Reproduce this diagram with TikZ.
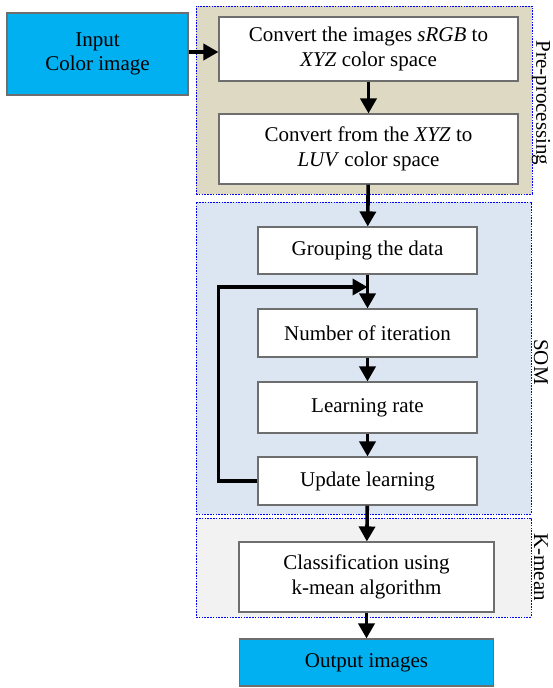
\documentclass[tikz,border=0pt]{standalone}
\usepackage{fontspec}
\setmainfont{Liberation Serif}
\usetikzlibrary{arrows.meta}

\definecolor{ioblue}{HTML}{00B0F0}
\definecolor{pretan}{HTML}{DDD9C3}
\definecolor{somblue}{HTML}{DCE6F2}
\definecolor{kgrey}{HTML}{F2F2F2}
\definecolor{edgegrey}{HTML}{6E6E6E}

\begin{document}
\begin{tikzpicture}[x=1pt, y=-1pt,
    font=\fontsize{21}{24.5}\selectfont,
    region/.style={draw=blue, line width=0.8pt, dash pattern=on 1.6pt off 1.2pt, inner sep=0pt},
    stepbox/.style={draw=edgegrey, line width=1.1pt, fill=white, align=center, inner sep=0pt},
    iobox/.style={stepbox, fill=ioblue},
    flow/.style={line width=3.6pt, -{Triangle[width=16pt,length=15pt]}},
    tag/.style={rotate=-90, inner sep=0pt}]

    \useasboundingbox (0,0) rectangle (553,688);

    % Regions
    \node[region, fill=pretan,  minimum width=336pt, minimum height=188pt] at (364, 100)   (pre)    {};
    \node[region, fill=somblue, minimum width=335pt, minimum height=312pt] at (363.5, 358) (som)    {};
    \node[region, fill=kgrey,   minimum width=335pt, minimum height=99pt]  at (363.5, 567.5) (kmean) {};

    \node[tag] at (541, 103) (prelabel)   {Pre-processing};
    \node[tag] at (541, 362) (somlabel)   {SOM};
    \node[tag] at (541, 567) (kmeanlabel) {K-mean};

    % Nodes
    \node[iobox,   minimum width=181pt, minimum height=82pt] at (97.5, 54)    (input)    {Input\\Color image};
    \node[stepbox, minimum width=299pt, minimum height=64pt] at (368.5, 49)   (srgb)     {Convert the images \textit{sRGB} to\\\textit{XYZ} color space};
    \node[stepbox, minimum width=299pt, minimum height=70pt] at (368.5, 149)  (luv)      {Convert from the \textit{XYZ} to\\\textit{LUV} color space};
    \node[stepbox, minimum width=219pt, minimum height=47pt] at (367.5, 250.5) (group)   {Grouping the data};
    \node[stepbox, minimum width=219pt, minimum height=48pt] at (367.5, 333)   (iter)    {Number of iteration};
    \node[stepbox, minimum width=219pt, minimum height=51pt] at (367.5, 407.5) (rate)    {Learning rate};
    \node[stepbox, minimum width=219pt, minimum height=48pt] at (367.5, 481)   (update)  {Update learning};
    \node[stepbox, minimum width=255pt, minimum height=70pt] at (366.5, 577)   (classify) {Classification using\\k-mean algorithm};
    \node[iobox,   minimum width=254pt, minimum height=47pt] at (366.5, 662.5) (output)  {Output images};

    \coordinate (merge) at (367.5, 287);

    \draw[flow] (input.east) ++(0,-2) -- (srgb.west |- 52,52);
    \draw[flow] (srgb)   -- (luv);
    \draw[flow] (luv)    -- (group);
    \draw[flow] (group)  -- (iter);
    \draw[flow] (iter)   -- (rate);
    \draw[flow] (rate)   -- (update);
    \draw[flow] (update) -- (classify);
    \draw[flow] (classify) -- (output);

    \draw[flow] (update.west) -- ++(-39,0) |- (merge);
\end{tikzpicture}
\end{document}
